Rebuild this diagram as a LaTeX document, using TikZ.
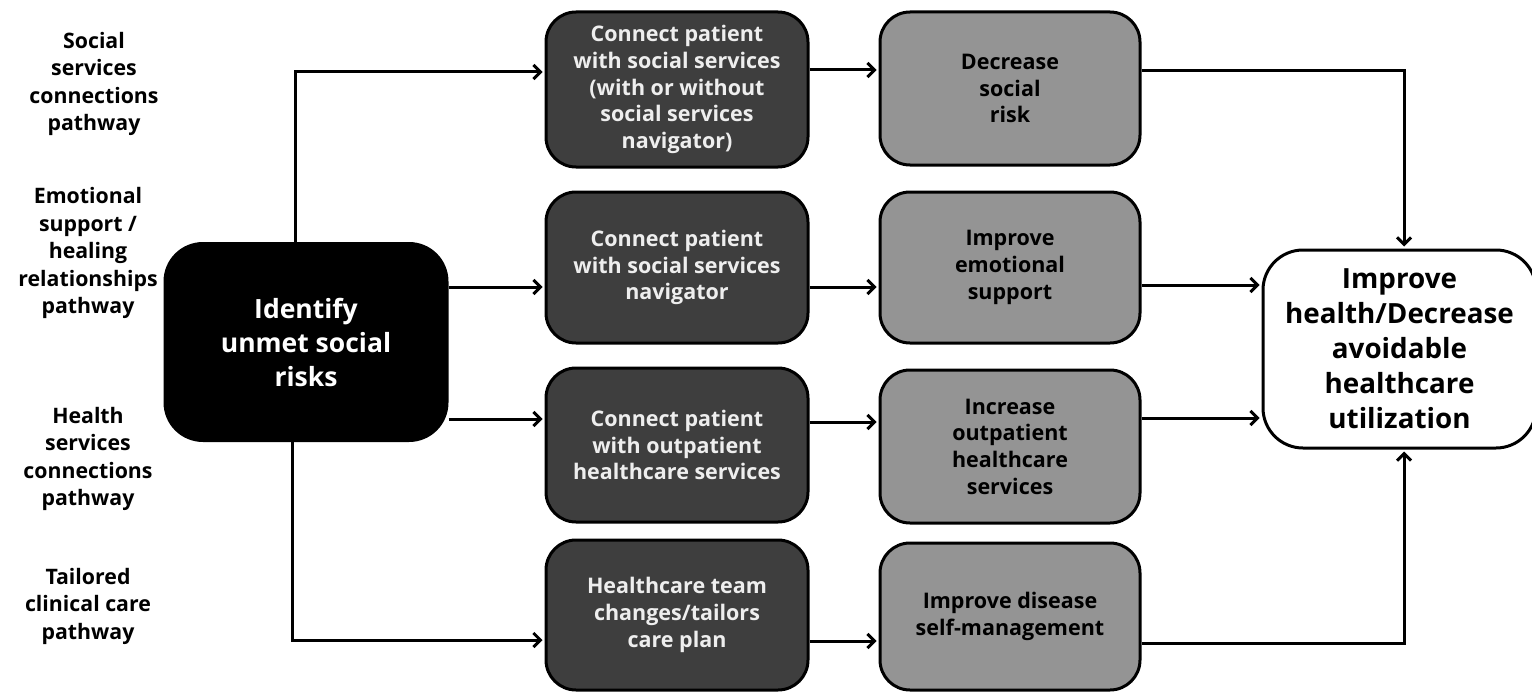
\documentclass[tikz,border=0pt]{standalone}
\usepackage{fontspec}
\setmainfont{Open Sans}
\usetikzlibrary{arrows.meta}
\definecolor{darkbox}{RGB}{62,62,62}
\definecolor{graybox}{RGB}{148,148,148}
\definecolor{lighttext}{RGB}{238,238,238}
\begin{document}
\begin{tikzpicture}[x=1pt,y=-1pt,
  box/.style={draw=black, line width=3pt, rounded corners=30pt, align=center, inner sep=0pt, font=\bfseries\fontsize{21.5}{26.7}\selectfont},
  darkstep/.style={box, fill=darkbox, text=lighttext, minimum width=262pt},
  graystep/.style={box, fill=graybox, text=black, minimum width=260pt},
  lbl/.style={align=center, font=\bfseries\fontsize{21.3}{27.5}\selectfont},
  arr/.style={line width=3pt, shorten >=2pt, -{Straight Barb[length=7pt,width=14pt]}}
]
\useasboundingbox (0,0) rectangle (1532,693);

% left labels
\node[lbl] (l1) at (94,84) {Social\\services\\connections\\pathway};
\node[lbl] (l2) at (88,253) {Emotional\\support /\\healing\\relationships\\pathway};
\node[lbl] (l3) at (88,459) {Health\\services\\connections\\pathway};
\node[lbl] (l4) at (88,606) {Tailored\\clinical care\\pathway};

% start
\node[box, fill=black, text=white, minimum width=282pt, minimum height=197pt, rounded corners=38pt,
      font=\bfseries\fontsize{26.5}{34}\selectfont] (id) at (306,342) {Identify\\unmet social\\risks};

% actions
\node[darkstep, minimum height=155pt] (d1) at (677,89.5) {Connect patient\\with social services\\(with or without\\social services\\navigator)};
\node[darkstep, minimum height=151pt] (d2) at (677,267.5) {Connect patient\\with social services\\navigator};
\node[darkstep, minimum height=154pt] (d3) at (677,445) {Connect patient\\with outpatient\\healthcare services};
\node[darkstep, minimum height=150pt] (d4) at (677,615) {Healthcare team\\changes/tailors\\care plan};

% outcomes
\node[graystep, minimum height=153pt] (g1) at (1010,88.5) {Decrease\\social\\risk};
\node[graystep, minimum height=151pt] (g2) at (1010,267.5) {Improve\\emotional\\support};
\node[graystep, minimum height=153pt] (g3) at (1010,446.5) {Increase\\outpatient\\healthcare\\services};
\node[graystep, minimum height=147pt] (g4) at (1010,616.5) {Improve disease\\self-management};

% final
\node[box, fill=white, text=black, minimum width=273pt, minimum height=198pt, rounded corners=40pt,
      font=\bfseries\fontsize{27.8}{35}\selectfont] (fin) at (1399.5,349) {Improve\\health/Decrease\\avoidable\\healthcare\\utilization};

% connectors from start
\coordinate (t1) at (295,72);
\coordinate (t4) at (292,640);
\draw[arr] (id.north -| t1) -- (t1) -- (d1.west |- t1);
\draw[arr] (id.east |- 0,287) -- (d2.west |- 0,287);
\draw[arr] (id.east |- 0,419) -- (d3.west |- 0,419);
\draw[arr] (id.south -| t4) -- (t4) -- (d4.west |- t4);

% actions to outcomes
\draw[arr] (d1.east |- 0,70) -- (g1.west |- 0,70);
\draw[arr] (d2.east |- 0,287) -- (g2.west |- 0,287);
\draw[arr] (d3.east |- 0,422) -- (g3.west |- 0,422);
\draw[arr] (d4.east |- 0,641) -- (g4.west |- 0,641);

% outcomes to final
\coordinate (u1) at (1404,71);
\coordinate (u4) at (1404,643);
\draw[arr] (g1.east |- u1) -- (u1) -- (fin.north -| u1);
\draw[arr] (g2.east |- 0,285) -- (fin.west |- 0,285);
\draw[arr] (g3.east |- 0,418) -- (fin.west |- 0,418);
\draw[arr] (g4.east |- u4) -- (u4) -- (fin.south -| u4);
\end{tikzpicture}
\end{document}
